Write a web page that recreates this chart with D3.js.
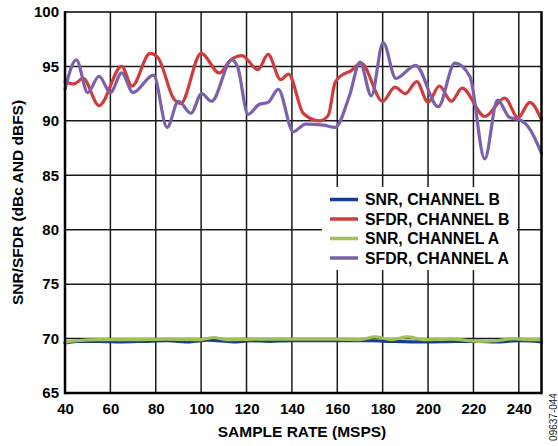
<!DOCTYPE html>
<html>
<head>
<meta charset="utf-8">
<script src="https://cdn.jsdelivr.net/npm/d3@7"></script>
<style>
  html, body { margin: 0; padding: 0; background: #fff; }
  svg { display: block; }
  text { font-family: Arial, "Liberation Sans", sans-serif; }
</style>
</head>
<body>
<div id="chart"></div>
<script>
// ---- data ----
const xTicks = [40, 60, 80, 100, 120, 140, 160, 180, 200, 220, 240];
const yTicks = [65, 70, 75, 80, 85, 90, 95, 100];

const snrBx = [40, 45, 55, 65, 75, 85, 95, 103, 114, 122, 130, 140, 160, 175, 183, 195, 200, 212, 222, 230, 240, 250];
const snrBy = [69.6, 69.75, 69.75, 69.7, 69.75, 69.8, 69.7, 69.85, 69.7, 69.8, 69.75, 69.8, 69.8, 69.8, 69.75, 69.7, 69.7, 69.75, 69.75, 69.7, 69.8, 69.7];

const sfdrBx = [40, 44, 48, 55, 65, 69.5, 77.5, 81, 88, 91, 100, 108, 113, 118, 125, 129.5, 135, 138.5, 145, 152, 156, 159, 162, 166, 170.5, 180, 185.4, 190, 195, 200, 205, 210.3, 215, 225, 233.8, 239.7, 244.8, 250];
const sfdrBy = [93.6, 93.4, 93.9, 91.4, 95.0, 93.2, 96.2, 95.8, 92.0, 91.6, 96.2, 94.4, 95.6, 96.0, 94.7, 96.1, 93.8, 94.3, 90.7, 90.0, 90.5, 93.5, 94.2, 94.6, 95.3, 91.8, 93.1, 92.5, 93.6, 91.7, 93.2, 91.8, 93.0, 90.4, 92.1, 90.3, 91.7, 90.1];

const snrAx = [40, 45, 55, 70, 85, 100, 105.5, 111, 125, 140, 160, 170, 176.5, 184, 191, 198, 210, 222, 230, 238, 244, 250];
const snrAy = [69.65, 69.8, 69.9, 69.9, 69.95, 69.9, 70.1, 69.9, 69.95, 69.95, 69.95, 69.9, 70.15, 69.9, 70.15, 69.9, 69.95, 69.75, 69.8, 70.0, 69.9, 69.9];

const sfdrAx = [40, 45, 50, 55, 60, 65, 70, 79, 85, 90, 95.5, 100.2, 104.6, 113.5, 116, 120.7, 125.5, 129.5, 134, 140.6, 146, 154, 159, 165.5, 170, 175, 180.2, 185.8, 194.5, 204.5, 211.8, 218.4, 225, 230.6, 236, 240.4, 245, 250];
const sfdrAy = [92.9, 95.6, 92.6, 94.1, 92.6, 94.4, 92.6, 94.2, 89.4, 91.8, 90.7, 92.5, 91.8, 95.6, 95.0, 90.6, 91.5, 91.7, 92.9, 89.0, 89.7, 89.6, 89.4, 92.4, 95.4, 92.3, 97.2, 93.9, 95.1, 91.3, 95.3, 94.1, 86.5, 91.9, 90.3, 90.1, 89.2, 87.0];

const seriesNames = ["SNR, CHANNEL B", "SFDR, CHANNEL B", "SNR, CHANNEL A", "SFDR, CHANNEL A"];
const seriesColors = ["#153f8c", "#d13b3b", "#a3bf57", "#7b61ab"];
const seriesX = [snrBx, sfdrBx, snrAx, sfdrAx];
const seriesY = [snrBy, sfdrBy, snrAy, sfdrAy];

// ---- layout ----
const W = 558, H = 446;
const L = 65, R = 541.5, T = 12, B = 393;

const svg = d3.select("#chart").append("svg").attr("width", W).attr("height", H);

const x = d3.scaleLinear().domain([40, 250]).range([L, R]);
const y = d3.scaleLinear().domain([65, 100]).range([B, T]);

// grid
const grid = svg.append("g");
grid.selectAll("line.vx").data(xTicks.filter(d => d > 40)).enter().append("line")
  .attr("x1", d => x(d)).attr("x2", d => x(d)).attr("y1", T).attr("y2", B)
  .attr("stroke", "#1a1a1a").attr("stroke-width", 1.5);
grid.selectAll("line.hy").data(yTicks.filter(d => d > 65 && d < 100)).enter().append("line")
  .attr("x1", L).attr("x2", R).attr("y1", d => y(d)).attr("y2", d => y(d))
  .attr("stroke", "#1a1a1a").attr("stroke-width", 1.5);

// series
const line = d3.line().curve(d3.curveMonotoneX).x(d => x(d[0])).y(d => y(d[1]));
seriesX.forEach((xs, i) => {
  const pts = xs.map((v, j) => [v, seriesY[i][j]]);
  svg.append("path").attr("d", line(pts)).attr("fill", "none")
    .attr("stroke", seriesColors[i]).attr("stroke-width", 3.2)
    .attr("stroke-linejoin", "round").attr("stroke-linecap", "round");
});

// frame
svg.append("line").attr("x1", L).attr("x2", R).attr("y1", T).attr("y2", T).attr("stroke", "#000").attr("stroke-width", 1.5);
svg.append("line").attr("x1", L).attr("x2", L).attr("y1", T - 0.75).attr("y2", B + 1.25).attr("stroke", "#000").attr("stroke-width", 2.5);
svg.append("line").attr("x1", R).attr("x2", R).attr("y1", T - 0.75).attr("y2", B + 1.25).attr("stroke", "#000").attr("stroke-width", 2.5);
svg.append("line").attr("x1", L).attr("x2", R).attr("y1", B).attr("y2", B).attr("stroke", "#000").attr("stroke-width", 2.5);

// axes (labels only, using d3 axes)
const xAxis = svg.append("g").attr("transform", `translate(0,${B})`)
  .call(d3.axisBottom(x).tickValues(xTicks).tickSize(0).tickPadding(10));
xAxis.select(".domain").remove();
xAxis.selectAll("text").attr("font-size", 15).attr("font-weight", "bold").attr("fill", "#000")
  .attr("font-family", "Arial, 'Liberation Sans', sans-serif");

const yAxis = svg.append("g").attr("transform", `translate(${L},0)`)
  .call(d3.axisLeft(y).tickValues(yTicks).tickSize(0).tickPadding(6));
yAxis.select(".domain").remove();
yAxis.selectAll("text").attr("font-size", 15).attr("font-weight", "bold").attr("fill", "#000")
  .attr("font-family", "Arial, 'Liberation Sans', sans-serif");

// axis titles
svg.append("text").attr("x", 302).attr("y", 437).attr("text-anchor", "middle")
  .attr("font-size", 15.5).attr("font-weight", "bold").text("SAMPLE RATE (MSPS)");
svg.append("text").attr("transform", `translate(23,${(T + B) / 2}) rotate(-90)`).attr("text-anchor", "middle")
  .attr("font-size", 15.5).attr("font-weight", "bold").text("SNR/SFDR (dBc AND dBFS)");

// legend
const lg = svg.append("g");
lg.append("rect").attr("x", 322).attr("y", 187).attr("width", 195).attr("height", 83).attr("fill", "#fff");
seriesNames.forEach((n, i) => {
  const cy = 199.5 + i * 19.5;
  lg.append("line").attr("x1", 330).attr("x2", 358).attr("y1", cy).attr("y2", cy)
    .attr("stroke", seriesColors[i]).attr("stroke-width", 3.5);
  lg.append("text").attr("x", 365).attr("y", cy + 5.5).attr("font-size", 15.8).attr("font-weight", "bold").text(n);
});

// figure id
svg.append("text").attr("transform", "translate(557,417) rotate(-90)").attr("text-anchor", "middle")
  .attr("font-size", 10).attr("fill", "#222").text("09637-044");
</script>
</body>
</html>
